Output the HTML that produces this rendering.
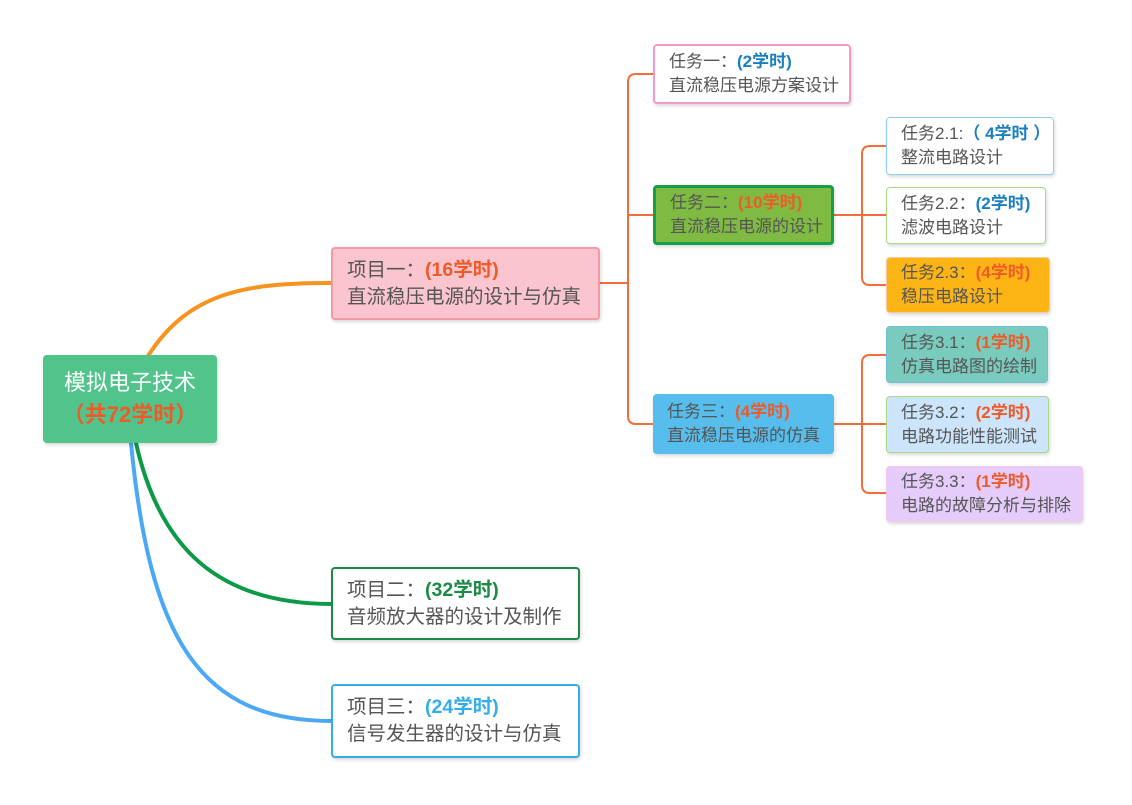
<!DOCTYPE html>
<html><head><meta charset="utf-8"><style>
body{margin:0;width:1132px;height:805px;background:#fff;position:relative;overflow:hidden;font-family:"Liberation Sans","Noto Sans CJK SC",sans-serif;}
.n{position:absolute;box-sizing:border-box;border-radius:4px;color:#555;padding-left:14px;display:flex;flex-direction:column;justify-content:center;line-height:24px;box-shadow:1px 2px 3px rgba(0,0,0,.15);white-space:nowrap;}
.p{font-size:19.5px;line-height:27px}.t{font-size:17px;line-height:24px}
b{font-weight:bold}
.o{color:#f05a28}.bl{color:#1a7fc0}.g{color:#1a8a45}.c{color:#35aee8}
</style></head><body>
<svg width="1132" height="805" style="position:absolute;left:0;top:0">
<g fill="none" stroke-linecap="round">
<path d="M148 356 C190 290 250 283 332 283" stroke="#f7931e" stroke-width="4"/>
<path d="M136 443 C160 550 220 604 332 604" stroke="#0c9a48" stroke-width="4"/>
<path d="M131 443 C150 640 200 721 332 721" stroke="#4aa8f5" stroke-width="4"/>
<g stroke="#f26d3a" stroke-width="2">
<path d="M600 283 H628"/>
<path d="M653 74 H636 Q628 74 628 82 V416 Q628 424 636 424 H653"/>
<path d="M628 215 H653"/>
<path d="M834 215 H886"/>
<path d="M886 146 H870 Q862 146 862 154 V277 Q862 285 870 285 H886"/>
<path d="M834 424 H886"/>
<path d="M886 355 H870 Q862 355 862 363 V485 Q862 493 870 493 H886"/>
</g></g></svg>

<div class="n" style="left:43px;top:355px;width:174px;height:88px;background:#50c48a;color:#fff;font-size:22px;line-height:32px;align-items:center;padding:0"><div>模拟电子技术</div><div class="o"><b>（共72学时）</b></div></div>

<div class="n p" style="left:331px;top:247px;width:269px;height:73px;background:#fac5cf;border:2px solid #f59aa5"><div>项目一：<b class="o">(16学时)</b></div><div>直流稳压电源的设计与仿真</div></div>
<div class="n p" style="left:331px;top:567px;width:249px;height:73px;background:#fff;border:2px solid #1a8a45"><div>项目二：<b class="g">(32学时)</b></div><div>音频放大器的设计及制作</div></div>
<div class="n p" style="left:331px;top:684px;width:249px;height:74px;background:#fff;border:2px solid #35aee8"><div>项目三：<b class="c">(24学时)</b></div><div>信号发生器的设计与仿真</div></div>

<div class="n t" style="left:653px;top:44px;width:198px;height:60px;background:#fff;border:2px solid #f59ac8"><div>任务一：<b class="bl">(2学时)</b></div><div>直流稳压电源方案设计</div></div>
<div class="n t" style="left:653px;top:185px;width:181px;height:60px;background:#7fba42;border:3px solid #12a04a"><div>任务二：<b class="o">(10学时)</b></div><div>直流稳压电源的设计</div></div>
<div class="n t" style="left:653px;top:394px;width:181px;height:60px;background:#56bdec"><div>任务三：<b class="o">(4学时)</b></div><div>直流稳压电源的仿真</div></div>

<div class="n t" style="left:886px;top:117px;width:168px;height:58px;background:#fff;border:1px solid #8fd0f0"><div>任务2.1:<b class="bl">（ 4学时 ）</b></div><div>整流电路设计</div></div>
<div class="n t" style="left:886px;top:187px;width:160px;height:57px;background:#fff;border:1px solid #a8d888"><div>任务2.2：<b class="bl">(2学时)</b></div><div>滤波电路设计</div></div>
<div class="n t" style="left:886px;top:257px;width:164px;height:56px;background:#fdb515;border:1px solid #f8c8a0"><div>任务2.3：<b class="o">(4学时)</b></div><div>稳压电路设计</div></div>
<div class="n t" style="left:886px;top:326px;width:162px;height:57px;background:#79cbbd;border:1px solid #6cc0d8"><div>任务3.1：<b class="o">(1学时)</b></div><div>仿真电路图的绘制</div></div>
<div class="n t" style="left:886px;top:396px;width:163px;height:57px;background:#cce5fa;border:1px solid #a8d888"><div>任务3.2：<b class="o">(2学时)</b></div><div>电路功能性能测试</div></div>
<div class="n t" style="left:886px;top:466px;width:197px;height:56px;background:#e6ccfa;border:1px solid #f0c8e8"><div>任务3.3：<b class="o">(1学时)</b></div><div>电路的故障分析与排除</div></div>
</body></html>
